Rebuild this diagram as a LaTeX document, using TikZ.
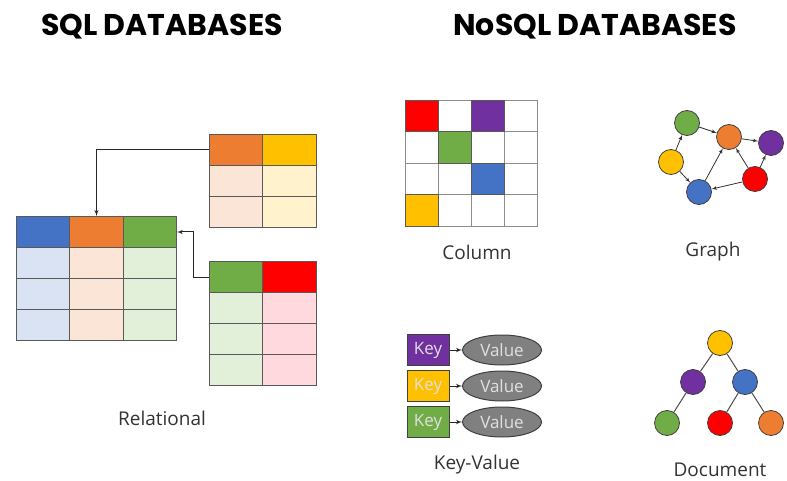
\documentclass[tikz,border=0pt]{standalone}
\usepackage{fontspec}
\setmainfont{Open Sans}
\newfontfamily\titlefont{Poppins}
\usepackage{tikz}
\usetikzlibrary{positioning}
\usetikzlibrary{calc}
\usetikzlibrary{arrows}
\usetikzlibrary{shapes.geometric}

\definecolor{cblue}{HTML}{4472C4}
\definecolor{corange}{HTML}{ED7D31}
\definecolor{cgreen}{HTML}{70AD47}
\definecolor{cyellow}{HTML}{FFC000}
\definecolor{cred}{HTML}{FF0000}
\definecolor{cpurple}{HTML}{7030A0}
\definecolor{lblue}{HTML}{DAE3F3}
\definecolor{lorange}{HTML}{FBE5D6}
\definecolor{lgreen}{HTML}{E2F0D9}
\definecolor{lyellow}{HTML}{FFF2CC}
\definecolor{lred}{HTML}{FFD9DE}

\begin{document}
\begin{tikzpicture}[
    x=1pt, y=-1pt,              % pixel grid, y going down
    ]
% -------------------------------------------------
\tikzset{
  title/.style={font=\titlefont\bfseries\fontsize{30}{34}\selectfont, text=black},
  label/.style={font=\fontsize{19}{22}\selectfont, text=black!80},
  cell/.style={draw=black!65, line width=1pt, inner sep=0pt, anchor=north west, minimum width=53.3pt, minimum height=31pt},
  grid/.style={draw=black!45, line width=1pt, inner sep=0pt, anchor=north west, minimum width=33pt, minimum height=31.5pt},
  gnode/.style={circle, draw=black!75, line width=0.8pt, inner sep=0pt, minimum size=25pt},
  keybox/.style={draw=black!75, line width=1pt, minimum width=42pt, minimum height=31pt, inner sep=0pt, text=white!88!black, font=\fontsize{17}{20}\selectfont},
  valnode/.style={ellipse, draw=black!75, line width=1pt, fill=black!50, minimum width=79pt, minimum height=30pt, inner sep=0pt, text=white!88!black, font=\fontsize{17}{20}\selectfont},
  line/.style={draw, black!85, line width=1pt, -latex'},
  gline/.style={draw, black!80, line width=0.8pt, -latex'},
  tline/.style={draw, black!70, line width=1pt}
}
\useasboundingbox (0,0) rectangle (787,481);

\node [title] (sqlt) at (162,27) {SQL DATABASES};
\node [title] (nosqlt) at (595,27) {NoSQL DATABASES};

% relational tables
\node [cell, fill=cblue] (mh1) at (16,216) {};
\node [cell, fill=corange] (mh2) at (69.3,216) {};
\node [cell, fill=cgreen] (mh3) at (122.6,216) {};
\foreach \r in {1,2,3}{
  \node [cell, fill=lblue] (mb1\r) at (16,216+31*\r) {};
  \node [cell, fill=lorange] (mb2\r) at (69.3,216+31*\r) {};
  \node [cell, fill=lgreen] (mb3\r) at (122.6,216+31*\r) {};
}
\node [cell, fill=corange] (th1) at (209,134) {};
\node [cell, fill=cyellow] (th2) at (262.3,134) {};
\foreach \r in {1,2}{
  \node [cell, fill=lorange] (tb1\r) at (209,134+31*\r) {};
  \node [cell, fill=lyellow] (tb2\r) at (262.3,134+31*\r) {};
}
\node [cell, fill=cgreen] (bh1) at (209,261) {};
\node [cell, fill=cred] (bh2) at (262.3,261) {};
\foreach \r in {1,2,3}{
  \node [cell, fill=lgreen] (bb1\r) at (209,261+31*\r) {};
  \node [cell, fill=lred] (bb2\r) at (262.3,261+31*\r) {};
}
\path [line] (th1.west) -| (mh2.north);
\path [line] (bh1.west) -- ++(-16,0) |- (mh3.east);
\node [label] (rel) at (162,418) {Relational};

% column store
\foreach \i in {0,...,3}{
  \foreach \j in {0,...,3}{
    \node [grid] (c\i\j) at (405+33*\j,100+31.5*\i) {};
  }
}
\node [grid, fill=cred, draw=black!65] (cr) at (405,100) {};
\node [grid, fill=cpurple, draw=black!65] (cp) at (471,100) {};
\node [grid, fill=cgreen, draw=black!65] (cg) at (438,131.5) {};
\node [grid, fill=cblue, draw=black!65] (cb) at (471,163) {};
\node [grid, fill=cyellow, draw=black!65] (cy) at (405,194.5) {};
\node [label] (col) at (477,252) {Column};

% graph store
\node [gnode, fill=cgreen] (gg) at (687,123) {};
\node [gnode, fill=corange] (go) at (729,137) {};
\node [gnode, fill=cpurple] (gp) at (771,143) {};
\node [gnode, fill=cyellow] (gy) at (671,162) {};
\node [gnode, fill=cblue] (gb) at (699,192) {};
\node [gnode, fill=cred] (gr) at (755,179) {};
\path [gline] (gy) -- (gg);
\path [gline] (gg) -- (go);
\path [gline] (gy) -- (gb);
\path [gline] (gb) -- (go);
\path [gline] (gr) -- (go);
\path [gline] (gr) -- (gb);
\path [gline] (go) -- (gp);
\path [gline] (gr) -- (gp);
\node [label] (gra) at (713,252) {Graph};

% key-value store
\node [keybox, fill=cpurple] (k1) at (428,350) {Key};
\node [keybox, fill=cyellow] (k2) at (428,386) {Key};
\node [keybox, fill=cgreen] (k3) at (428,422) {Key};
\node [valnode] (v1) at (502,350) {Value};
\node [valnode] (v2) at (502,386) {Value};
\node [valnode] (v3) at (502,422) {Value};
\path [line] (k1) -- (v1);
\path [line] (k2) -- (v2);
\path [line] (k3) -- (v3);
\node [label] (kv) at (477,465) {Key-Value};

% document store
\node [gnode, fill=cyellow] (dy) at (720,343) {};
\node [gnode, fill=cpurple] (dp) at (693,382) {};
\node [gnode, fill=cblue] (db) at (745,382) {};
\node [gnode, fill=cgreen] (dg) at (667,423) {};
\node [gnode, fill=cred] (dr) at (720,423) {};
\node [gnode, fill=corange] (do) at (771,423) {};
\path [tline] (dy) -- (dp);
\path [tline] (dy) -- (db);
\path [tline] (dp) -- (dg);
\path [tline] (db) -- (dr);
\path [tline] (db) -- (do);
\node [label] (doc) at (720,470) {Document};
\end{tikzpicture}
\end{document}
